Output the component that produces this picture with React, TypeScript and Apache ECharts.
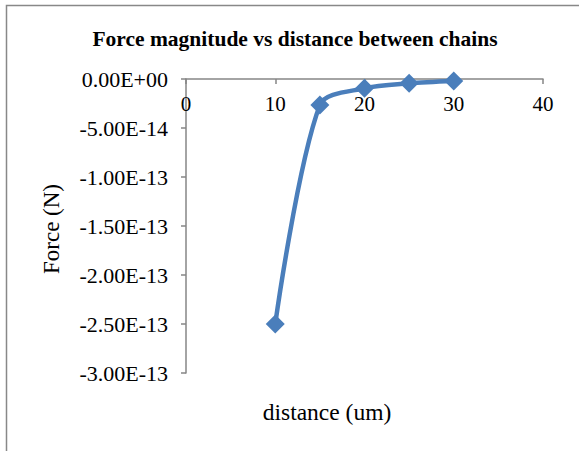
import React, { useEffect, useRef } from "react";
import * as echarts from "echarts";

const distances = [10, 15, 20, 25, 30];
const forces = [-2.5e-13, -2.65e-14, -9.5e-15, -4.4e-15, -2.0e-15];
const xTicks = { min: 0, max: 40, interval: 10 };
const yTicks = { min: -3e-13, max: 0, interval: 5e-14 };
const titleText = "Force magnitude vs distance between chains";
const xTitle = "distance (um)";
const yTitle = "Force (N)";

const serif = "'Liberation Serif', 'Times New Roman', serif";

function fmtE(v: number): string {
  if (Math.abs(v) < 1e-30) return "0.00E+00";
  const s = v.toExponential(2);
  const [m, e] = s.split("e");
  const sign = e[0] === "-" ? "-" : "+";
  const digits = e.replace(/^[+-]/, "").padStart(2, "0");
  return `${m}E${sign}${digits}`;
}

export default function App() {
  const ref = useRef<HTMLDivElement>(null);
  useEffect(() => {
    if (!ref.current) return;
    const chart = echarts.init(ref.current, undefined, { renderer: "svg" });
    const axisColor = "#868686";
    chart.setOption({
      animation: false,
      backgroundColor: "#ffffff",
      grid: { left: 186, top: 79, right: 36, bottom: 78, containLabel: false },
      graphic: [
        {
          type: "rect",
          shape: { x: 6.5, y: 5.5, width: 700, height: 700 },
          style: { fill: "none", stroke: "#888888", lineWidth: 1.5 },
          silent: true,
        },
        {
          type: "text",
          x: 295,
          y: 39,
          style: {
            text: titleText,
            font: `bold 21.5px ${serif}`,
            fill: "#000",
            align: "center",
            verticalAlign: "middle",
          },
        },
        {
          type: "text",
          x: 327,
          y: 412,
          style: {
            text: xTitle,
            font: `23.5px ${serif}`,
            fill: "#000",
            align: "center",
            verticalAlign: "middle",
          },
        },
        {
          type: "text",
          x: 51,
          y: 229,
          rotation: Math.PI / 2,
          style: {
            text: yTitle,
            font: `23px ${serif}`,
            fill: "#000",
            align: "center",
            verticalAlign: "middle",
          },
        },
      ],
      xAxis: {
        type: "value",
        position: "top",
        min: xTicks.min,
        max: xTicks.max,
        interval: xTicks.interval,
        axisLine: { onZero: false, lineStyle: { color: axisColor, width: 1.5 } },
        axisTick: { show: true, inside: true, length: 5, lineStyle: { color: axisColor, width: 1.5 } },
        axisLabel: {
          inside: true,
          margin: 14,
          color: "#000",
          fontFamily: serif,
          fontSize: 21,
        },
        splitLine: { show: false },
      },
      yAxis: {
        type: "value",
        min: yTicks.min,
        max: yTicks.max,
        interval: yTicks.interval,
        axisLine: { show: true, onZero: false, lineStyle: { color: axisColor, width: 1.5 } },
        axisTick: { show: true, length: 5, lineStyle: { color: axisColor, width: 1.5 } },
        axisLabel: {
          margin: 18,
          color: "#000",
          fontFamily: serif,
          fontSize: 22,
          formatter: (v: number) => fmtE(v),
        },
        splitLine: { show: false },
      },
      series: [
        {
          type: "line",
          data: distances.map((d, i) => [d, forces[i]]),
          smooth: 0.3,
          symbol: "diamond",
          symbolSize: 19,
          lineStyle: { color: "#4a7ebb", width: 4.5 },
          itemStyle: { color: "#4a7ebb" },
          z: 3,
        },
      ],
    });
    return () => chart.dispose();
  }, []);
  return (
    <div
      ref={ref}
      style={{ position: "absolute", left: 0, top: 0, width: 579, height: 451 }}
    />
  );
}
